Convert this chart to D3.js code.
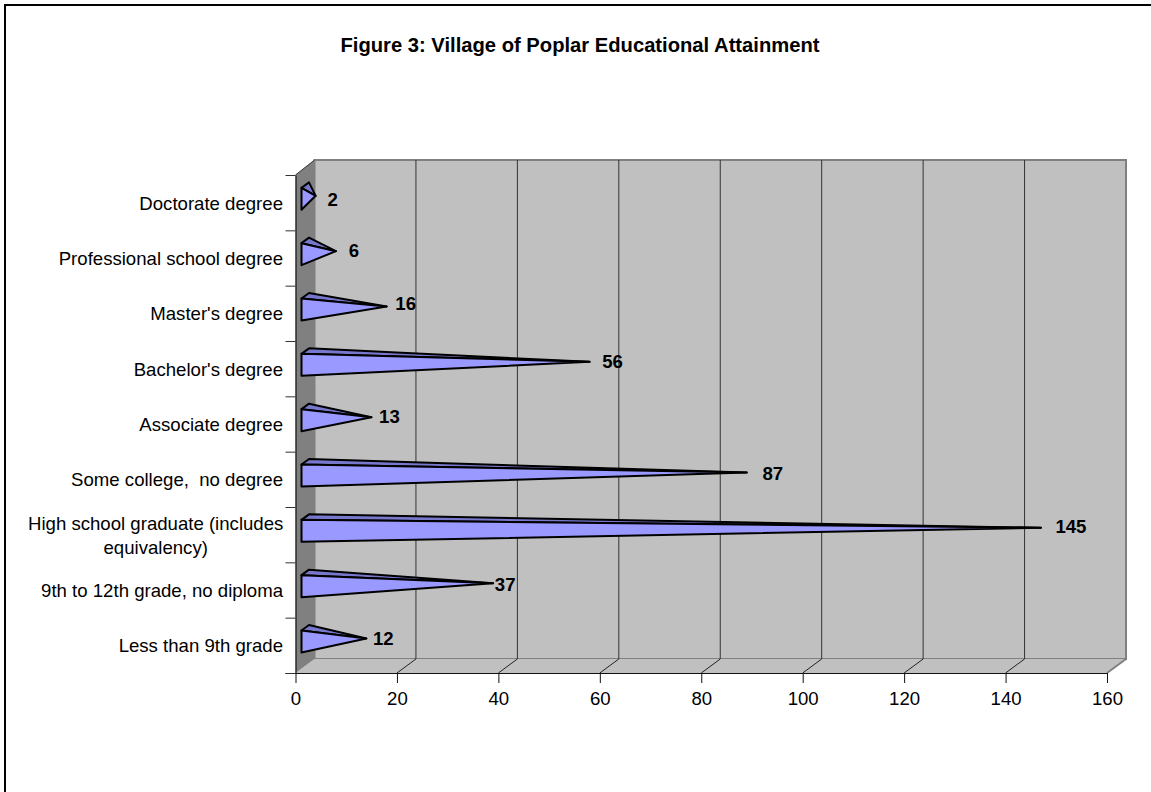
<!DOCTYPE html>
<html><head><meta charset="utf-8">
<style>html,body{margin:0;padding:0;background:#fff}svg{display:block}text{font-family:"Liberation Sans",Arial,sans-serif;fill:#000;white-space:pre}</style>
<script src="https://cdn.jsdelivr.net/npm/d3@7/dist/d3.min.js"></script>
</head><body><svg id="c" width="1151" height="792"></svg>
<script>
const chartTitle = "Figure 3: Village of Poplar Educational Attainment";
const categories = ["Less than 9th grade","9th to 12th grade, no diploma",["High school graduate (includes","equivalency)"],"Some college,  no degree","Associate degree","Bachelor's degree","Master's degree","Professional school degree","Doctorate degree"];
const values = [12,37,145,87,13,56,16,6,2];
const xTicks = [0,20,40,60,80,100,120,140,160];
// layout only: small nudges of the data labels, in px, same order as categories
const labelDx = [17,12,30,26,18,23,19,18,17];
const labelDy = [0,1,-1,1,-1,0,-3,-1,4];

const svg = d3.select("#c");
const plotLeft=295.5,plotRight=1107,plotBottom=673,plotTop=175,depX=19,depY=14;
const fontSize=18.6;
const x = d3.scaleLinear().domain([0,160]).range([plotLeft,plotRight]);
const y = d3.scaleLinear().domain([0,categories.length]).range([plotBottom,plotTop]);
const band = d3.scaleBand().domain(d3.range(categories.length)).range([plotBottom,plotTop]);
const poly = p => p.map(d=>d.join(",")).join(" ");

svg.append("path").attr("d","M5 792V5H1151").attr("fill","none").attr("stroke","#000").attr("stroke-width",2);
svg.append("text").attr("x",580).attr("y",52).attr("text-anchor","middle").attr("font-size",20.2).attr("font-weight","bold").text(chartTitle);

// walls
svg.append("polygon").attr("points",poly([[x(0)+depX,plotTop-depY-1],[x(160)+depX,plotTop-depY-1],[x(160)+depX,plotBottom-depY],[x(0)+depX,plotBottom-depY]])).attr("fill","#c0c0c0").attr("stroke","#808080").attr("stroke-width",2);
svg.append("polygon").attr("points",poly([[x(0),plotBottom],[x(0)+depX,plotBottom-depY],[x(160)+depX,plotBottom-depY],[x(160),plotBottom]])).attr("fill","#c0c0c0");
svg.append("line").attr("x1",x(160)).attr("y1",plotBottom).attr("x2",x(160)+depX).attr("y2",plotBottom-depY).attr("stroke","#808080").attr("stroke-width",2);
svg.append("polygon").attr("points",poly([[x(0),plotTop],[x(0)+depX,plotTop-depY-1],[x(0)+depX,plotBottom-depY],[x(0),plotBottom]])).attr("fill","#808080");

// gridlines
svg.append("g").selectAll("line").data(xTicks.slice(1,-1)).join("line")
  .attr("x1",d=>x(d)+depX).attr("x2",d=>x(d)+depX).attr("y1",plotTop-depY-1).attr("y2",plotBottom-depY).attr("stroke","#333").attr("stroke-width",1);
svg.append("g").selectAll("line").data(xTicks.slice(1,-1)).join("line")
  .attr("x1",d=>x(d)).attr("x2",d=>x(d)+depX).attr("y1",plotBottom).attr("y2",plotBottom-depY).attr("stroke","#222").attr("stroke-width",1);

// axes
const ax = svg.append("g").attr("transform",`translate(0,${plotBottom})`)
  .call(d3.axisBottom(x).tickValues(xTicks).tickSize(10).tickSizeOuter(0).tickPadding(9));
ax.selectAll("text").attr("font-size",fontSize).style("font-family",'"Liberation Sans",Arial,sans-serif');
ax.selectAll("line,path").attr("stroke","#111");
ax.select(".domain").attr("d",`M${plotLeft-10},0.5H${plotRight}`);
const ay = svg.append("g").attr("transform",`translate(${plotLeft},0)`)
  .call(d3.axisLeft(y).tickValues(d3.range(categories.length+1)).tickSize(10).tickSizeOuter(0).tickFormat(""));
ay.selectAll("line").attr("stroke","#333");
ay.select(".domain").attr("stroke","#000");
svg.append("line").attr("x1",x(0)).attr("y1",plotTop).attr("x2",x(0)+depX).attr("y2",plotTop-depY-1).attr("stroke","#333");

// category labels
const lab = svg.append("g").selectAll("text").data(categories).join("text")
  .attr("font-size",fontSize).attr("text-anchor","end");
lab.each(function(d,i){
  const t=d3.select(this), lines=Array.isArray(d)?d:[d], cy=band(i)+band.bandwidth()/2;
  if(lines.length===1){ t.attr("x",283).attr("y",cy+7).text(d); return; }
  t.attr("text-anchor","middle");
  lines.forEach((l,k)=>t.append("tspan").attr("x",155.7).attr("y",cy+7+(k-0.5)*24).text(l));
});

// pyramids
const g = svg.append("g").selectAll("g").data(values).join("g");
g.each(function(v,i){
  const s=d3.select(this), b=y(i), xb=x(0);
  const fl=[xb+6,b-20.5], ft=[xb+6,b-42.5], bt=[xb+13.5,b-48], tip=[x(v)+10,b-34.5];
  s.append("polygon").attr("points",poly([ft,bt,tip])).attr("fill","#7777cc").attr("stroke","#000").attr("stroke-width",2).attr("stroke-linejoin","round");
  s.append("polygon").attr("points",poly([ft,fl,tip])).attr("fill","#9999ff").attr("stroke","#000").attr("stroke-width",2).attr("stroke-linejoin","round");
  s.append("text").attr("x",tip[0]+labelDx[i]).attr("y",tip[1]+6.5+labelDy[i]).attr("text-anchor","middle").attr("font-size",fontSize).attr("font-weight","bold").text(v);
});
</script></body></html>
